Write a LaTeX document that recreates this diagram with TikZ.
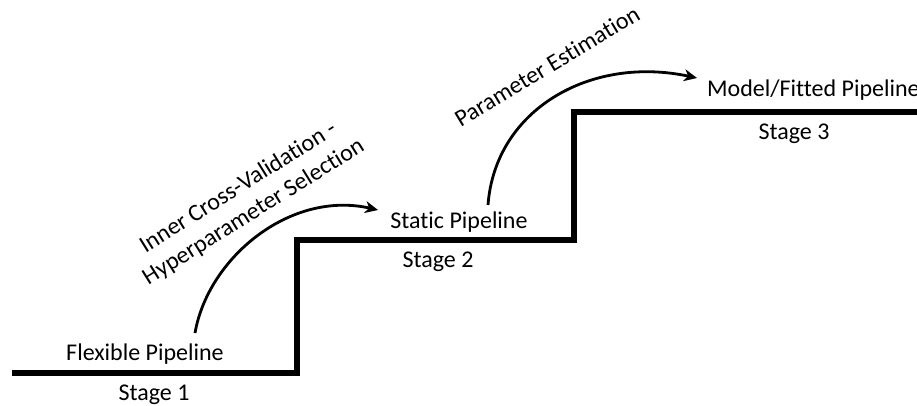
\documentclass[tikz,border=0pt]{standalone}
\usepackage{fontspec}
\setmainfont{Carlito}[Ligatures=NoCommon]
\usetikzlibrary{arrows.meta}
\begin{document}
\begin{tikzpicture}[x=1pt,y=-1pt,
  stair/.style={line width=5.8pt, line join=miter},
  flow/.style={line width=2.8pt, -{Stealth[length=13pt,width=12pt,inset=4pt]}},
  lbl/.style={font=\fontsize{24}{29}\selectfont, inner sep=0pt},
]
\useasboundingbox (0,0) rectangle (917,406);
\clip (0,0) rectangle (917,406);

% the three steps
\coordinate (s0) at (12,373);
\coordinate (s1) at (297,373);
\coordinate (s2) at (297,240);
\coordinate (s3) at (574,240);
\coordinate (s4) at (574,112);
\coordinate (s5) at (930,112);
\draw[stair] (s0) -- (s1) -- (s2) -- (s3) -- (s4) -- (s5);

% labels on and under each step
\node[lbl, anchor=base] (flex) at (145,360) {Flexible Pipeline};
\node[lbl, anchor=base] (st1) at (154,400) {Stage 1};
\node[lbl, anchor=base] (static) at (459,228) {Static Pipeline};
\node[lbl, anchor=base] (st2) at (438,267) {Stage 2};
\node[lbl, anchor=base west] (model) at (707,97) {Model/Fitted Pipeline};
\node[lbl, anchor=base] (st3) at (794,140) {Stage 3};

% transitions between the steps
\node[lbl, rotate=32, align=center] (hyper) at (246,200)
  {Inner Cross-Validation -\\Hyperparameter Selection};
\node[lbl, rotate=31] (param) at (547,66) {Parameter Estimation};

\coordinate (a1s) at (195,333);
\coordinate (a1e) at (378,210);
\coordinate (a2s) at (488,205);
\coordinate (a2e) at (697,78);
\draw[flow] (a1s) .. controls (208,258) and (290,190) .. (a1e);
\draw[flow] (a2s) .. controls (495,110) and (590,55) .. (a2e);
\end{tikzpicture}
\end{document}
